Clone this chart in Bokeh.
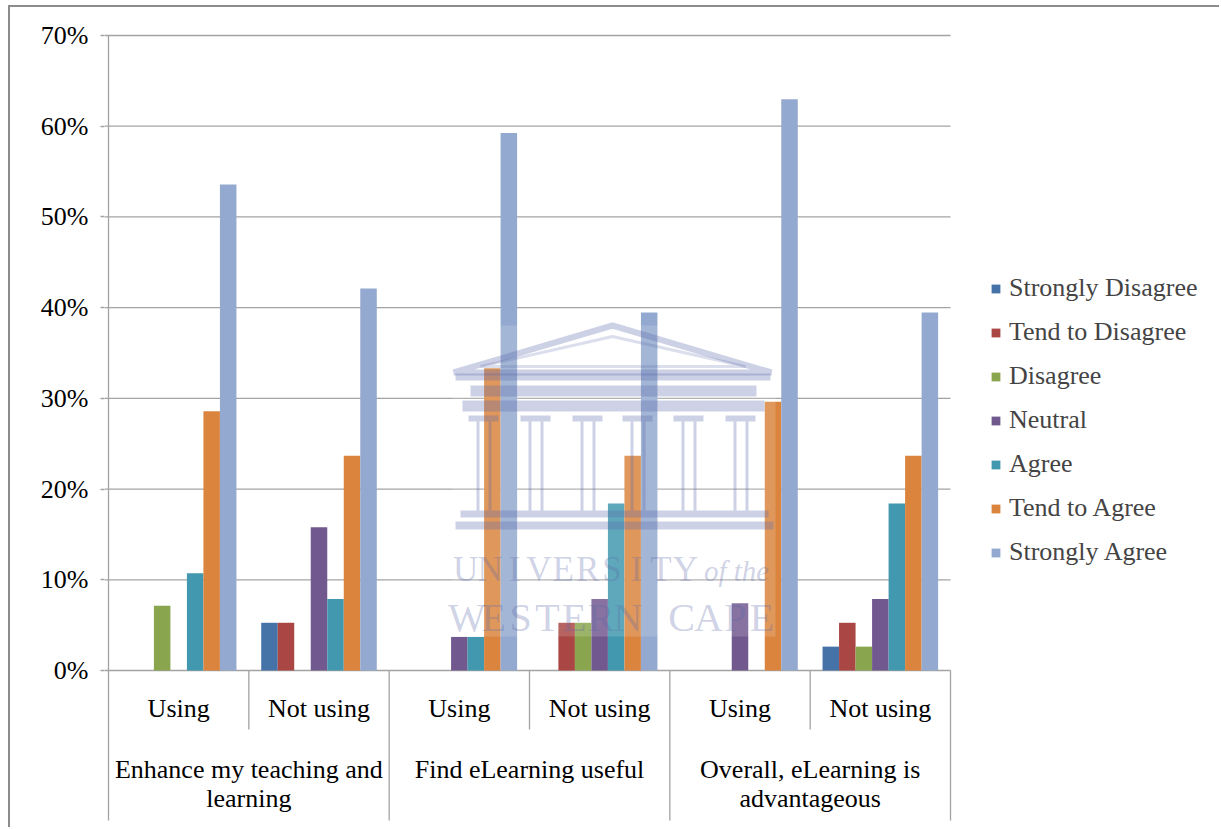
from bokeh.plotting import figure
from bokeh.models import Range1d, FixedTicker, PrintfTickFormatter, Legend, LegendItem
from bokeh.core.properties import value
from bokeh.embed import file_html
from bokeh.resources import INLINE

# ---- data: share of respondents (%) per statement and usage group ----
statements = [["Enhance my teaching and", "learning"],
              ["Find eLearning useful"],
              ["Overall, eLearning is", "advantageous"]]
usage_groups = ["Using", "Not using"]
responses = ["Strongly Disagree", "Tend to Disagree", "Disagree", "Neutral",
             "Agree", "Tend to Agree", "Strongly Agree"]
colors = ["#4572A7", "#AA4643", "#89A54E", "#71588F", "#4198AF", "#DB843D", "#93A9CF"]

strongly_disagree = [0.0, 5.26, 0.0, 0.0, 0.0, 2.63]
tend_to_disagree = [0.0, 5.26, 0.0, 5.26, 0.0, 5.26]
disagree = [7.14, 0.0, 0.0, 5.26, 0.0, 2.63]
neutral = [0.0, 15.79, 3.70, 7.89, 7.41, 7.89]
agree = [10.71, 7.89, 3.70, 18.42, 0.0, 18.42]
tend_to_agree = [28.57, 23.68, 33.33, 23.68, 29.63, 23.68]
strongly_agree = [53.57, 42.11, 59.26, 39.47, 62.96, 39.47]
series = [strongly_disagree, tend_to_disagree, disagree, neutral,
          agree, tend_to_agree, strongly_agree]

y_ticks = [0, 10, 20, 30, 40, 50, 60, 70]

# ---- page geometry (pixels) ----
PAGE_W, PAGE_H = 1221, 829
OX, OY = 10, 7                  # canvas origin inside the bordered chart box
AREA_L, AREA_R = 108, 950       # plot area left / right
AREA_T, AREA_B = 35, 670        # 70% line / 0% line
FRAME_L = 104
n_slots = len(statements) * len(usage_groups)
slot = (AREA_R - AREA_L) / n_slots
ppy = (AREA_B - AREA_T) / y_ticks[-1]


def X(px):
    return (px - AREA_L) / slot


def Y(py):
    return (AREA_B - py) / ppy


FONT = value("Liberation Serif")
GRID = "#a3a3a3"

p = figure(width=PAGE_W - OX, height=PAGE_H - OY, output_backend="svg",
           toolbar_location=None, x_axis_type=None,
           x_range=Range1d(X(FRAME_L), X(PAGE_W)),
           y_range=Range1d(Y(PAGE_H), Y(OY)),
           min_border_left=FRAME_L - OX, min_border_right=0,
           min_border_top=0, min_border_bottom=0)
p.margin = (5, 0, 0, 8)
p.styles = {"border-top": "2px solid #8c8c8c", "border-left": "2px solid #8c8c8c"}
p.outline_line_color = None
p.grid.visible = False
p.background_fill_color = "white"
p.border_fill_color = "white"

# y axis
ax = p.yaxis[0]
ax.ticker = FixedTicker(ticks=y_ticks)
ax.formatter = PrintfTickFormatter(format="%d%%")
ax.axis_line_color = None
ax.major_tick_line_color = GRID
ax.major_tick_line_width = 1.3
ax.major_tick_out = 4
ax.major_tick_in = 0
ax.minor_tick_line_color = None
ax.major_label_standoff = 12
ax.major_label_text_font = "Liberation Serif"
ax.major_label_text_font_size = "26px"
ax.major_label_text_color = "black"

# horizontal gridlines
p.segment(x0=[X(FRAME_L)] * len(y_ticks), y0=y_ticks, x1=[n_slots] * len(y_ticks), y1=y_ticks,
          line_color=GRID, line_width=1.3)

# bars
n_series = len(series)
bar_w = 1 / (n_series + 1.5)
renderers = []
centers = [i + 0.5 for i in range(n_slots)]
for k, (vals, col) in enumerate(zip(series, colors)):
    xs = [c + (k - (n_series - 1) / 2) * bar_w for c in centers]
    r = p.vbar(x=xs, top=vals, bottom=0, width=bar_w, fill_color=col,
               line_color=None)
    renderers.append(r)

# watermark (crest and lettering laid over the bars)
WM = "#5a68a8"
A = 0.3
p.quad(left=[X(452)], right=[X(775)], top=[Y(325)], bottom=[Y(636)],
       fill_color="white", fill_alpha=0.16, line_color=None)
p.line(x=[X(453), X(612), X(771), X(453)], y=[Y(372), Y(325), Y(372), Y(372)],
       line_color=WM, line_alpha=A, line_width=6)
p.line(x=[X(480), X(612), X(745), X(480)], y=[Y(366), Y(336), Y(366), Y(366)],
       line_color=WM, line_alpha=0.22, line_width=3)
p.quad(left=[X(455), X(462), X(470)], right=[X(770), X(764), X(756)],
       top=[Y(373), Y(400), Y(385)], bottom=[Y(380), Y(411), Y(396)],
       fill_color=WM, fill_alpha=A, line_color=None)
col_x = [483, 535, 587, 637, 688, 740]
p.quad(left=[X(c - 15) for c in col_x], right=[X(c + 15) for c in col_x],
       top=[Y(415)] * 6, bottom=[Y(421)] * 6, fill_color=WM, fill_alpha=A, line_color=None)
for dx in (-7, 5):
    p.quad(left=[X(c + dx) for c in col_x], right=[X(c + dx + 3) for c in col_x],
           top=[Y(421)] * 6, bottom=[Y(510)] * 6, fill_color=WM, fill_alpha=A, line_color=None)
p.quad(left=[X(460), X(455)], right=[X(768), X(773)],
       top=[Y(510), Y(521)], bottom=[Y(517), Y(529)],
       fill_color=WM, fill_alpha=A, line_color=None)

word1 = "UNIVERSITY"
step1 = (697 - 453) / len(word1)
p.text(x=[X(453 + step1 * (i + 0.5)) for i in range(len(word1))], y=[Y(569)] * len(word1),
       text=list(word1), text_font=FONT, text_font_size="35px",
       text_color=WM, text_alpha=A, text_align="center", text_baseline="middle")
p.text(x=[X(736)], y=[Y(570)], text=["of the"], text_font=FONT, text_font_size="29px",
       text_font_style="italic", text_color=WM, text_alpha=A,
       text_align="center", text_baseline="middle")
word2 = "WESTERN CAPE"
step2 = (775 - 453) / len(word2)
p.text(x=[X(453 + step2 * (i + 0.5)) for i in range(len(word2))], y=[Y(617)] * len(word2),
       text=list(word2), text_font=FONT, text_font_size="40px",
       text_color=WM, text_alpha=A, text_align="center", text_baseline="middle")

# axis line and category dividers
p.segment(x0=[0], y0=[Y(820)], x1=[0], y1=[y_ticks[-1]], line_color=GRID, line_width=1.3)
major_div = [2 * i for i in range(1, len(statements) + 1)]
p.segment(x0=major_div, y0=[Y(820)] * len(major_div), x1=major_div, y1=[0] * len(major_div),
          line_color=GRID, line_width=1.3)
minor_div = [2 * i + 1 for i in range(len(statements))]
p.segment(x0=minor_div, y0=[Y(729)] * len(minor_div), x1=minor_div, y1=[0] * len(minor_div),
          line_color=GRID, line_width=1.3)

# category labels
p.text(x=centers, y=[Y(708)] * n_slots, text=usage_groups * len(statements),
       text_font=FONT, text_font_size="26px", text_color="black",
       text_align="center", text_baseline="middle")
for i, lines in enumerate(statements):
    for j, line in enumerate(lines):
        p.text(x=[2 * i + 1], y=[Y(769 + 29 * j)], text=[line],
               text_font=FONT, text_font_size="26px", text_color="black",
               text_align="center", text_baseline="middle")

# legend
legend = Legend(items=[LegendItem(label=lab, renderers=[r]) for lab, r in zip(responses, renderers)],
                location=(990 - FRAME_L, PAGE_H - 567),
                glyph_width=11, glyph_height=11, label_height=20, spacing=14,
                label_standoff=8, padding=0, margin=0,
                label_text_font="Liberation Serif", label_text_font_size="26px",
                border_line_color=None, background_fill_alpha=0)
p.add_layout(legend)

open("out.html", "w").write(file_html(p, INLINE))
